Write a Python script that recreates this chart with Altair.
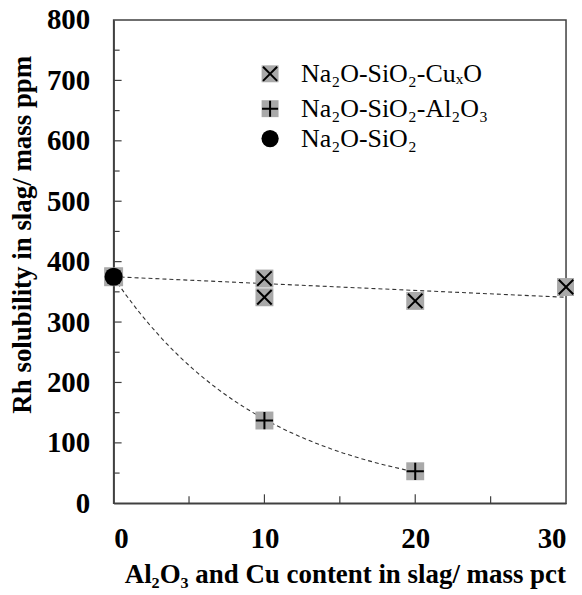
import altair as alt
import pandas as pd

# data
base_x = [0]
base_y = [375]
cu_x = [10, 10, 20, 30]
cu_y = [372, 341, 335, 358]
al_x = [0, 10, 20]
al_y = [375, 137, 53]
trend_cu_x = [0, 30]
trend_cu_y = [375, 341]

y_major = [100, 200, 300, 400, 500, 600, 700]
y_minor = [50, 150, 250, 350, 450, 550, 650, 750]
x_major = [10, 20]
x_minor = [5, 15, 25]

legend_labels = ["Na₂O-SiO₂-CuₓO", "Na₂O-SiO₂-Al₂O₃", "Na₂O-SiO₂"]

FONT = "Liberation Serif"
GRAY = "#a9a9a9"
W, H = 454, 485
LABEL_SIZE = 29

base_df = pd.DataFrame({"x": base_x, "y": base_y})
cu_df = pd.DataFrame({"x": cu_x, "y": cu_y})
al_df = pd.DataFrame({"x": al_x, "y": al_y})
trend_df = pd.DataFrame({"x": trend_cu_x, "y": trend_cu_y})

xs = alt.Scale(domain=[0, 30], nice=False, zero=False)
ys = alt.Scale(domain=[0, 800], nice=False)

X = alt.X("x:Q", scale=xs, axis=alt.Axis(
    values=[0, 10, 20, 30], title="Al₂O₃ and Cu content in slag/ mass pct",
    labelFont=FONT, labelFontSize=LABEL_SIZE, labelFontWeight="bold",
    labelPadding=21, titleY=80, titleBaseline="alphabetic", titleX=W / 2 + 5))
Y = alt.Y("y:Q", scale=ys, axis=alt.Axis(
    values=[0, 100, 200, 300, 400, 500, 600, 700, 800],
    labelFont=FONT, labelFontSize=LABEL_SIZE, labelFontWeight="bold",
    title="Rh solubility in slag/ mass ppm", labelPadding=24,
    titleX=-91, titleY=215, titleBaseline="middle"))

XP = alt.X("x:Q", scale=xs)
YP = alt.Y("y:Q", scale=ys)

x_cross = "M-1,-1L1,1M-1,1L1,-1"
plus = "M-1,0L1,0M0,-1L0,1"

dash = dict(strokeDash=[4, 3], strokeWidth=1.1, color="#333333")

trend_line = alt.Chart(trend_df).mark_line(**dash).encode(x=X, y=Y)
al_curve = alt.Chart(al_df).transform_regression(
    "x", "y", method="exp", extent=[0, 20]
).mark_line(**dash).encode(x=XP, y=YP)

cu_sq = alt.Chart(cu_df).mark_point(shape="square", filled=True, color=GRAY, size=324, opacity=1).encode(x=XP, y=YP)
cu_x_mark = alt.Chart(cu_df).mark_point(shape=x_cross, filled=False, color="black", size=210, strokeWidth=2, opacity=1).encode(x=XP, y=YP)
al_sq = alt.Chart(al_df).mark_point(shape="square", filled=True, color=GRAY, size=324, opacity=1).encode(x=XP, y=YP)
al_p = alt.Chart(al_df).mark_point(shape=plus, filled=False, color="black", size=300, strokeWidth=2, opacity=1).encode(x=XP, y=YP)
base_sq = alt.Chart(base_df).mark_point(shape="square", filled=True, color=GRAY, size=361, opacity=1).encode(x=XP, y=YP)
base_c = alt.Chart(base_df).mark_point(shape="circle", filled=True, color="black", size=330, opacity=1).encode(x=XP, y=YP)

# inward ticks
tick_color = "#404040"
ymaj_df = pd.DataFrame({"y": y_major})
ymin_df = pd.DataFrame({"y": y_minor})
xmaj_df = pd.DataFrame({"x": x_major})
xmin_df = pd.DataFrame({"x": x_minor})
t1 = alt.Chart(ymaj_df).mark_rule(color=tick_color, strokeWidth=1.2).encode(y=YP, x=alt.value(0), x2=alt.value(8))
t2 = alt.Chart(ymin_df).mark_rule(color=tick_color, strokeWidth=1.2).encode(y=YP, x=alt.value(0), x2=alt.value(6))
t3 = alt.Chart(xmaj_df).mark_rule(color=tick_color, strokeWidth=1.2).encode(x=XP, y=alt.value(H), y2=alt.value(H - 9))
t4 = alt.Chart(xmin_df).mark_rule(color=tick_color, strokeWidth=1.2).encode(x=XP, y=alt.value(H), y2=alt.value(H - 7))

# legend
leg_df = pd.DataFrame({"label": legend_labels, "row": [0, 1, 2]})
sym_x = 157
text_x = 188
rows_y = [54, 89, 119]
leg_layers = []
for i, lab in enumerate(legend_labels):
    d = leg_df[leg_df["row"] == i]
    yv = rows_y[i]
    if i == 0:
        leg_layers.append(alt.Chart(d).mark_point(shape="square", filled=True, color=GRAY, size=289, opacity=1).encode(x=alt.value(sym_x), y=alt.value(yv)))
        leg_layers.append(alt.Chart(d).mark_point(shape=x_cross, filled=False, color="black", size=200, strokeWidth=2, opacity=1).encode(x=alt.value(sym_x), y=alt.value(yv)))
    elif i == 1:
        leg_layers.append(alt.Chart(d).mark_point(shape="square", filled=True, color=GRAY, size=289, opacity=1).encode(x=alt.value(sym_x), y=alt.value(yv)))
        leg_layers.append(alt.Chart(d).mark_point(shape=plus, filled=False, color="black", size=260, strokeWidth=2, opacity=1).encode(x=alt.value(sym_x), y=alt.value(yv)))
    else:
        leg_layers.append(alt.Chart(d).mark_point(shape="circle", filled=True, color="black", size=300, opacity=1).encode(x=alt.value(sym_x), y=alt.value(yv)))
    leg_layers.append(alt.Chart(d).mark_text(font=FONT, fontSize=26, align="left", baseline="middle", color="black").encode(
        x=alt.value(text_x), y=alt.value(yv), text="label:N"))

chart = alt.layer(
    trend_line, al_curve, t1, t2, t3, t4,
    cu_sq, cu_x_mark, al_sq, al_p, base_sq, base_c,
    *leg_layers
).properties(
    width=W, height=H,
    autosize=alt.AutoSizeParams(type="none"),
    padding={"left": 106, "top": 11, "right": 8, "bottom": 88},
).configure_view(
    stroke=tick_color, strokeWidth=1.5
).configure_axis(
    grid=False, ticks=False, domainColor=tick_color, domainWidth=1.5,
    labelFont=FONT, labelFontSize=LABEL_SIZE, labelFontWeight="bold", labelColor="black",
    titleFont=FONT, titleFontSize=27, titleFontWeight="bold", titleColor="black",
)

chart.save("out.html", embed_options={"renderer": "svg", "actions": False})
